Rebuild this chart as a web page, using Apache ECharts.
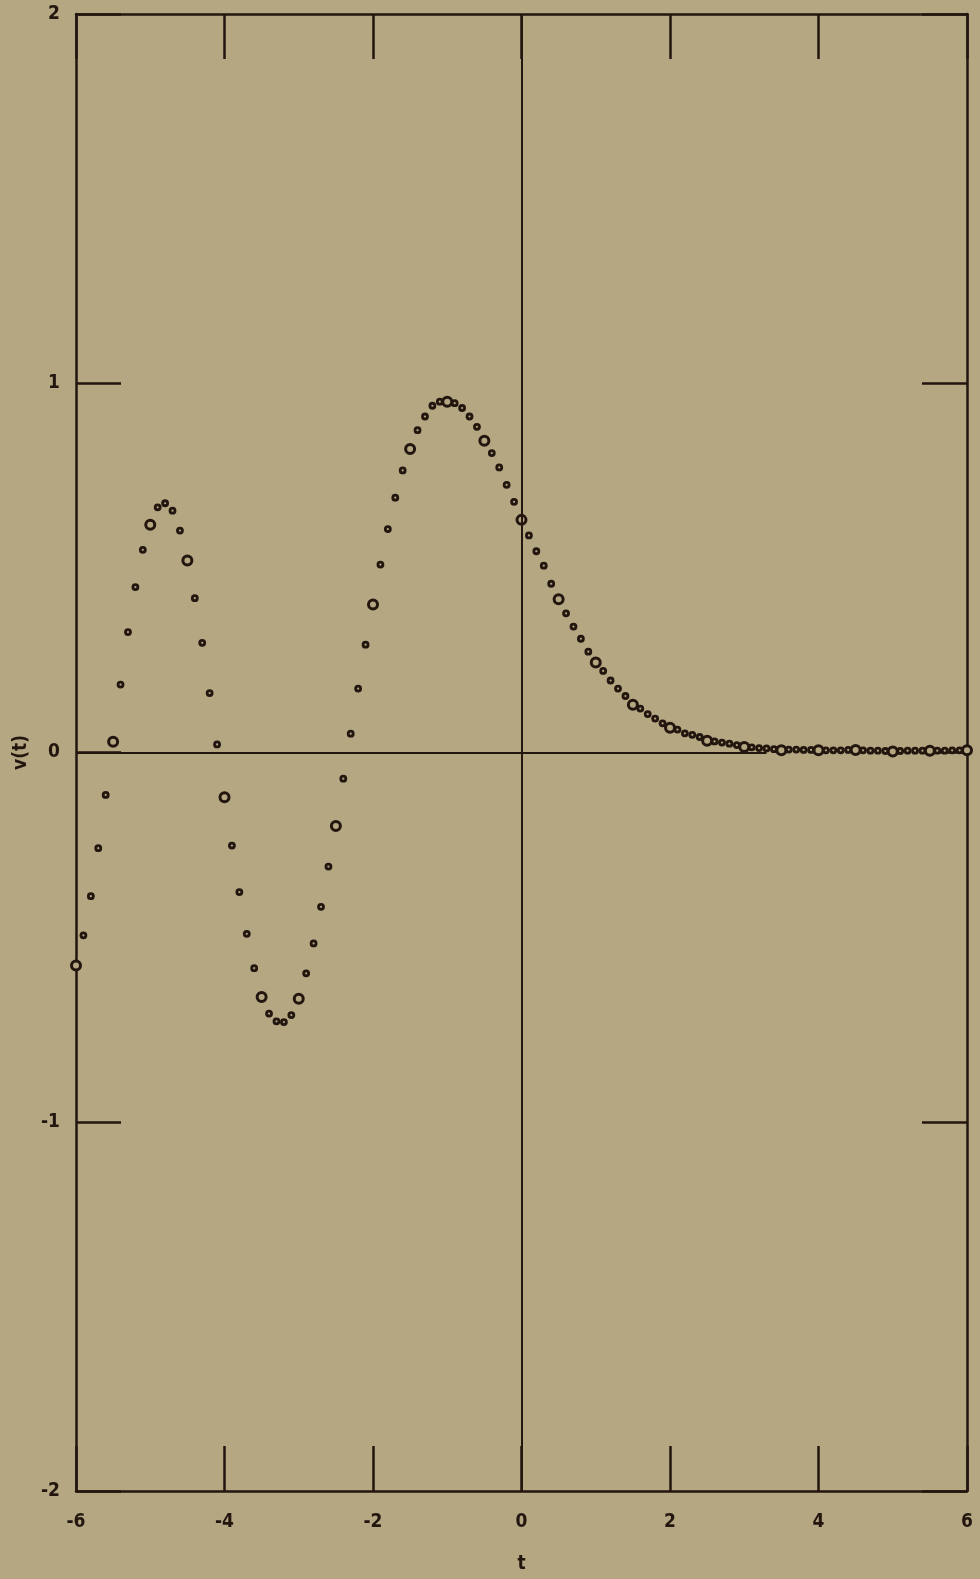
<!DOCTYPE html>
<html>
<head>
<meta charset="utf-8">
<script src="https://cdn.jsdelivr.net/npm/echarts@6/dist/echarts.min.js"></script>
<style>
html, body { margin: 0; padding: 0; background: #b4a782; }
#chart { width: 980px; height: 1579px; }
</style>
</head>
<body>
<div id="chart"></div>
<script>
// points every 0.5 in t, drawn as the bigger open circles
var majorPoints = [
  [-6.0, -0.577], [-5.5, 0.029], [-5.0, 0.617], [-4.5, 0.520], [-4.0, -0.121],
  [-3.5, -0.662], [-3.0, -0.667], [-2.5, -0.199], [-2.0, 0.401], [-1.5, 0.822],
  [-1.0, 0.950], [-0.5, 0.844], [0.0, 0.630], [0.5, 0.415], [1.0, 0.244],
  [1.5, 0.129], [2.0, 0.067], [2.5, 0.032], [3.0, 0.015], [3.5, 0.006],
  [4.0, 0.006], [4.5, 0.007], [5.0, 0.003], [5.5, 0.005], [6.0, 0.006]
];
// the small points in between (step 0.1)
var minorPoints = [
  [-5.9, -0.495], [-5.8, -0.389], [-5.7, -0.259], [-5.6, -0.115],
  [-5.4, 0.184], [-5.3, 0.326], [-5.2, 0.448], [-5.1, 0.549],
  [-4.9, 0.664], [-4.8, 0.675], [-4.7, 0.655], [-4.6, 0.601],
  [-4.4, 0.418], [-4.3, 0.297], [-4.2, 0.161], [-4.1, 0.022],
  [-3.9, -0.252], [-3.8, -0.378], [-3.7, -0.491], [-3.6, -0.584],
  [-3.4, -0.707], [-3.3, -0.728], [-3.2, -0.730], [-3.1, -0.711],
  [-2.9, -0.598], [-2.8, -0.517], [-2.7, -0.418], [-2.6, -0.309],
  [-2.4, -0.071], [-2.3, 0.051], [-2.2, 0.173], [-2.1, 0.292],
  [-1.9, 0.509], [-1.8, 0.605], [-1.7, 0.690], [-1.6, 0.764],
  [-1.4, 0.873], [-1.3, 0.910], [-1.2, 0.939], [-1.1, 0.950],
  [-0.9, 0.946], [-0.8, 0.933], [-0.7, 0.910], [-0.6, 0.882],
  [-0.4, 0.811], [-0.3, 0.772], [-0.2, 0.725], [-0.1, 0.679],
  [0.1, 0.588], [0.2, 0.545], [0.3, 0.506], [0.4, 0.457],
  [0.6, 0.377], [0.7, 0.341], [0.8, 0.308], [0.9, 0.273],
  [1.1, 0.221], [1.2, 0.195], [1.3, 0.173], [1.4, 0.153],
  [1.6, 0.119], [1.7, 0.104], [1.8, 0.092], [1.9, 0.079],
  [2.1, 0.062], [2.2, 0.052], [2.3, 0.048], [2.4, 0.042],
  [2.6, 0.030], [2.7, 0.027], [2.8, 0.024], [2.9, 0.020],
  [3.1, 0.014], [3.2, 0.012], [3.3, 0.011], [3.4, 0.009],
  [3.6, 0.008], [3.7, 0.008], [3.8, 0.007], [3.9, 0.007],
  [4.1, 0.006], [4.2, 0.006], [4.3, 0.006], [4.4, 0.007],
  [4.6, 0.006], [4.7, 0.005], [4.8, 0.005], [4.9, 0.004],
  [5.1, 0.004], [5.2, 0.005], [5.3, 0.005], [5.4, 0.005],
  [5.6, 0.005], [5.7, 0.005], [5.8, 0.006], [5.9, 0.006]
];
// axis ranges / tick steps
var tRange = [-6, 6, 2];
var vRange = [-2, 2, 1];
// the horizontal zero line stops short of the right edge
var zeroLineEnd = 3.3;

var ink = '#22160f';
var paper = '#b4a782';
var labelFont = "'Liberation Sans Narrow', 'DejaVu Sans Condensed', sans-serif";

var chart = echarts.init(document.getElementById('chart'));

var tickStyle = { show: true, inside: true, length: 45, lineStyle: { color: ink, width: 2.5 } };
var lineStyle = { show: true, onZero: false, lineStyle: { color: ink, width: 2.5 } };
var labelStyle = { color: ink, fontFamily: labelFont, fontWeight: 'bold', fontSize: 19 };

var option = {
  backgroundColor: paper,
  animation: false,
  grid: { left: 76, right: 13, top: 14, bottom: 85 },
  xAxis: [{
    type: 'value', position: 'bottom',
    min: tRange[0], max: tRange[1], interval: tRange[2],
    axisLine: lineStyle, axisTick: tickStyle, splitLine: { show: false },
    axisLabel: Object.assign({ margin: 22 }, labelStyle),
    name: 't', nameLocation: 'middle', nameGap: 64,
    nameTextStyle: labelStyle
  }, {
    type: 'value', position: 'top',
    min: tRange[0], max: tRange[1], interval: tRange[2],
    axisLine: lineStyle, axisTick: tickStyle, splitLine: { show: false },
    axisLabel: { show: false }
  }],
  yAxis: [{
    type: 'value', position: 'left',
    min: vRange[0], max: vRange[1], interval: vRange[2],
    axisLine: lineStyle, axisTick: tickStyle, splitLine: { show: false },
    axisLabel: Object.assign({ margin: 16 }, labelStyle),
    name: 'v(t)', nameLocation: 'middle', nameGap: 24, nameRotate: 90,
    nameTextStyle: labelStyle
  }, {
    type: 'value', position: 'right',
    min: vRange[0], max: vRange[1], interval: vRange[2],
    axisLine: lineStyle, axisTick: tickStyle, splitLine: { show: false },
    axisLabel: { show: false }
  }],
  series: [{
    name: 'minor',
    type: 'scatter',
    data: minorPoints,
    symbol: 'circle',
    symbolSize: 5,
    itemStyle: { color: paper, borderColor: ink, borderWidth: 2.8, opacity: 1 },
    z: 3,
    markLine: {
      silent: true,
      symbol: ['none', 'none'],
      label: { show: false },
      lineStyle: { color: ink, width: 2, type: 'solid' },
      data: [
        { xAxis: 0 },
        [{ coord: [tRange[0], 0] }, { coord: [zeroLineEnd, 0] }]
      ]
    }
  }, {
    name: 'major',
    type: 'scatter',
    data: majorPoints,
    symbol: 'circle',
    symbolSize: 9,
    itemStyle: { color: paper, borderColor: ink, borderWidth: 3, opacity: 1 },
    z: 4
  }]
};

chart.setOption(option);
</script>
</body>
</html>
